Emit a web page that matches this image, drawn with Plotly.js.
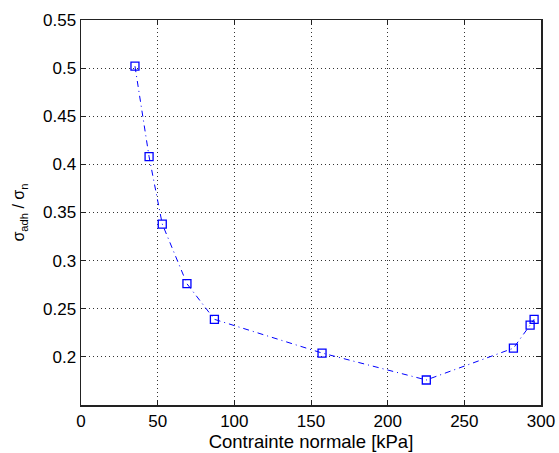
<!DOCTYPE html>
<html>
<head>
<meta charset="utf-8">
<script src="https://cdn.plot.ly/plotly-3.0.1.min.js"></script>
<style>html,body{margin:0;padding:0;background:#fff;}</style>
</head>
<body>
<div id="chart" style="width:559px;height:453px;"></div>
<script>
const xValues = [35.2, 44.4, 53.0, 69.1, 87.0, 157.2, 225.2, 282.0, 292.9, 295.5];
const yValues = [0.502, 0.408, 0.338, 0.276, 0.239, 0.204, 0.176, 0.209, 0.233, 0.239];
const xTicks = [0, 50, 100, 150, 200, 250, 300];
const yTicks = [0.2, 0.25, 0.3, 0.35, 0.4, 0.45, 0.5, 0.55];
const yTickLabels = ['0.2', '0.25', '0.3', '0.35', '0.4', '0.45', '0.5', '0.55'];

const FONT = 'Liberation Sans, Arial, sans-serif';
const trace = {
  x: xValues, y: yValues, type: 'scatter', mode: 'lines+markers',
  line: {color: '#0000ff', width: 1, dash: '6px,4px,1px,4px'},
  marker: {symbol: 'square-open', size: 8, color: '#0000ff', line: {width: 1.3}},
  hoverinfo: 'skip'
};
const axisCommon = {
  showline: true, linecolor: '#222', linewidth: 1.5, mirror: 'ticks',
  ticks: 'inside', ticklen: 5, tickcolor: '#222',
  showgrid: true, gridcolor: '#333', griddash: '1px,3px', gridwidth: 1,
  zeroline: false, tickfont: {family: FONT, size: 17, color: '#000'}
};
const layout = {
  width: 559, height: 453,
  margin: {l: 81, r: 18, t: 20, b: 48},
  paper_bgcolor: '#fff', plot_bgcolor: '#fff',
  showlegend: false,
  xaxis: Object.assign({}, axisCommon, {
    range: [0, 300], tickvals: xTicks,
    title: {text: 'Contrainte normale [kPa]', font: {family: FONT, size: 18.5, color: '#000'}, standoff: 0}
  }),
  yaxis: Object.assign({}, axisCommon, {
    range: [0.15, 0.55], tickvals: yTicks, ticktext: yTickLabels,
    title: {text: 'σ<sub>adh</sub> / σ<sub>n</sub>', font: {family: FONT, size: 16, color: '#000'}, standoff: 14}
  })
};
Plotly.newPlot('chart', [trace], layout, {displayModeBar: false, staticPlot: true});
</script>
</body>
</html>
